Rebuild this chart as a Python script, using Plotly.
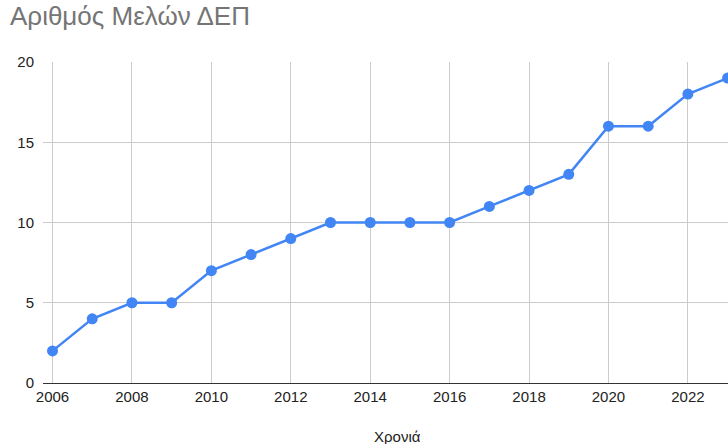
import plotly.graph_objects as go

years = [2006, 2007, 2008, 2009, 2010, 2011, 2012, 2013, 2014, 2015, 2016, 2017, 2018, 2019, 2020, 2021, 2022, 2023]
members = [2, 4, 5, 5, 7, 8, 9, 10, 10, 10, 10, 11, 12, 13, 16, 16, 18, 19]
x_ticks = [2006, 2008, 2010, 2012, 2014, 2016, 2018, 2020, 2022]
y_ticks = [0, 5, 10, 15, 20]

FONT = "Liberation Sans, Arial, sans-serif"

fig = go.Figure()
fig.add_trace(go.Scatter(
    x=years, y=members, mode="lines+markers",
    line=dict(color="#4285F4", width=2.5),
    marker=dict(color="#4285F4", size=11),
    cliponaxis=False, showlegend=False,
))

fig.update_layout(
    width=728, height=444,
    margin=dict(l=43, r=0, t=62, b=61, autoexpand=False),
    paper_bgcolor="white", plot_bgcolor="white",
    font=dict(family=FONT, size=15, color="#222222"),
    title=dict(text="Αριθμός Μελών ΔΕΠ", x=0, xref="container", xanchor="left",
               y=0.985, yref="container", yanchor="top", pad=dict(l=10, t=0),
               font=dict(family=FONT, size=26, color="#757575")),
    xaxis=dict(range=[2005.76, 2023.01], tickvals=x_ticks, ticktext=[str(t) for t in x_ticks],
               showgrid=True, gridcolor="#cccccc", gridwidth=1, automargin=False,
               showline=True, linecolor="#333333", linewidth=1,
               zeroline=False, ticks="", ticklen=0, tickfont=dict(size=15, color="#222222")),
    yaxis=dict(range=[0, 20], tickvals=y_ticks, showgrid=True, gridcolor="#cccccc", gridwidth=1,
               zeroline=False, showline=False, ticks="", ticklabelstandoff=8, automargin=False,
               tickfont=dict(size=15, color="#222222")),
)
fig.add_annotation(text="Χρονιά", xref="paper", yref="paper", x=(397 - 43) / 685, y=-0.168,
                   xanchor="center", yanchor="middle", showarrow=False,
                   font=dict(family=FONT, size=15, color="#222222"))
fig.write_html("out.html", config={"displayModeBar": False},
               post_script="document.body.style.margin='0';document.body.style.overflow='hidden';")
